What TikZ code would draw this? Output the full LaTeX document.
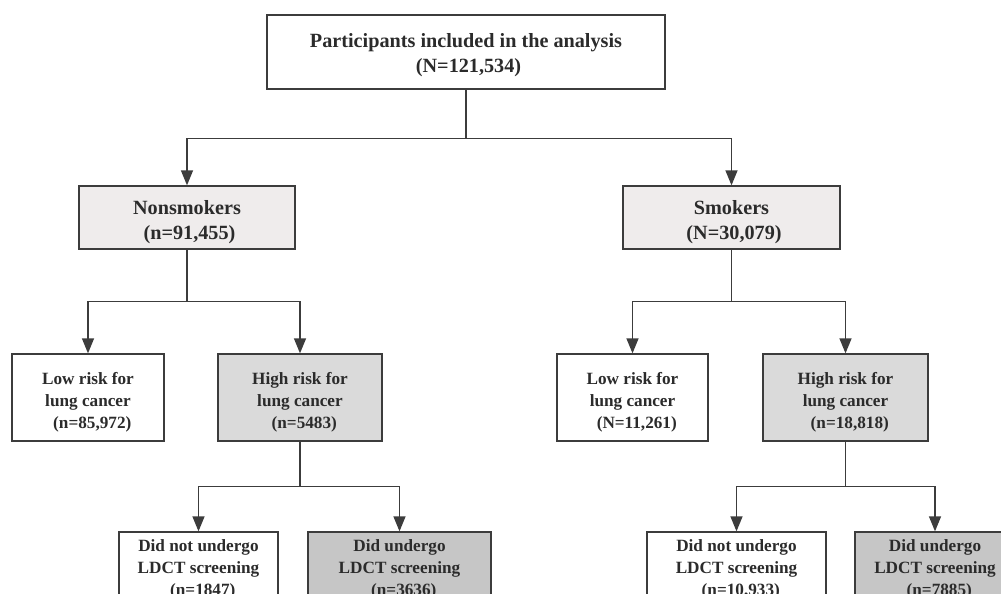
\documentclass[tikz,border=0pt]{standalone}
\usepackage{fontspec}
\setmainfont{Liberation Serif}
\usepackage{tikz}
\usetikzlibrary{arrows.meta,calc}
\tikzset{>={Triangle[length=15pt,width=12pt]}}
\usepackage{xcolor}
\definecolor{mygray}{HTML}{3C3C3C}
\definecolor{mytext}{HTML}{2B2B2B}
\definecolor{mylight}{HTML}{EFECEC}
\definecolor{mymid}{HTML}{DADADA}
\definecolor{mydark}{HTML}{C6C6C6}

\begin{document}
\begin{tikzpicture}[x=1pt, y=-1pt,
                    line join=miter,
                    box/.style={draw=mygray, line width=1.3pt, inner sep=0pt,
                                align=center, text=mytext},
                    bigbox/.style={box, minimum height=63pt,
                                   font=\fontsize{20.2}{25}\selectfont\bfseries},
                    smallbox/.style={box, minimum height=87pt,
                                     font=\fontsize{17.2}{22}\selectfont\bfseries},
                    link/.style={mygray, line width=1.3pt},
                    arrow/.style={link,->}]
  \useasboundingbox (0,0) rectangle (1001,594);
  \def\cnt#1{\hspace*{.5em}#1} % counts sit a little to the right
  \def\lift#1{\rule{0pt}{#1}}  % pushes the text block down in its box

  % FIRST LEVEL
  \node[bigbox, minimum width=398pt, minimum height=74pt] (total) at (466,52)
    {\lift{20pt}Participants included in the analysis\\\hspace*{.25em}(N=121,534)};

  % SMOKING STATUS
  \node[bigbox, fill=mylight, minimum width=216pt] (nonsmk) at (187,217.5)
    {\lift{23.5pt}Nonsmokers\\\hspace*{.25em}(n=91,455)};
  \node[bigbox, fill=mylight, minimum width=217pt] (smk) at (731.5,217.5)
    {\lift{23.5pt}Smokers\\\hspace*{.25em}(N=30,079)};

  % RISK GROUPS
  \node[smallbox, minimum width=152pt] (lownon) at (88,397.5)
    {\lift{22pt}Low risk for\\lung cancer\\\cnt{(n=85,972)}};
  \node[smallbox, fill=mymid, minimum width=164pt] (highnon) at (300,397.5)
    {\lift{22pt}High risk for\\lung cancer\\\cnt{(n=5483)}};
  \node[smallbox, minimum width=151pt] (lowsmk) at (632.5,397.5)
    {\lift{22pt}Low risk for\\lung cancer\\\cnt{(N=11,261)}};
  \node[smallbox, fill=mymid, minimum width=165pt] (highsmk) at (845.5,397.5)
    {\lift{22pt}High risk for\\lung cancer\\\cnt{(n=18,818)}};

  % SCREENING
  \node[smallbox, minimum width=159pt, minimum height=75pt] (notnon) at (198.5,569.5)
    {Did not undergo\\LDCT screening\\\cnt{(n=1847)}};
  \node[smallbox, fill=mydark, minimum width=183pt, minimum height=75pt] (donenon) at (399.5,569.5)
    {Did undergo\\LDCT screening\\\cnt{(n=3636)}};
  \node[smallbox, minimum width=179pt, minimum height=75pt] (notsmk) at (736.5,569.5)
    {Did not undergo\\LDCT screening\\\cnt{(n=10,933)}};
  \node[smallbox, fill=mydark, minimum width=160pt, minimum height=75pt] (donesmk) at (935,569.5)
    {Did undergo\\LDCT screening\\\cnt{(n=7885)}};

  % CONNECTORS
  \draw[link] (total.south) -- ++(0,48.5) coordinate (s0);
  \draw[arrow] (s0) -| (nonsmk.north);
  \draw[arrow] (s0) -| (smk.north);

  \foreach \parent/\left/\right in {nonsmk/lownon/highnon, smk/lowsmk/highsmk,
                                    highnon/notnon/donenon, highsmk/notsmk/donesmk}{
    \draw[link] (\parent.south) -- ($(\parent.south)!0.5!(\parent.south|-\left.north)$) coordinate (s1);
    \draw[arrow] (s1) -| (\left.north);
    \draw[arrow] (s1) -| (\right.north);
  }

\end{tikzpicture}
\end{document}
